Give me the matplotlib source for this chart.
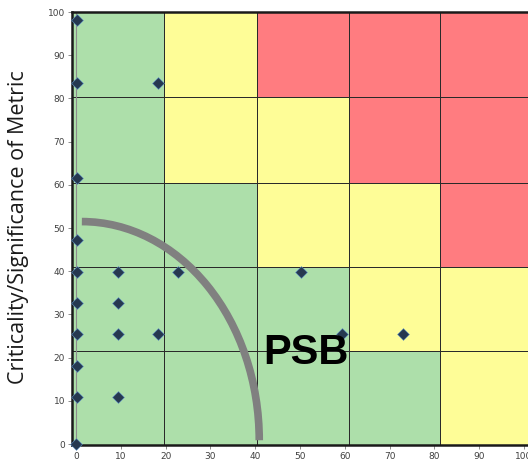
import numpy as np
import matplotlib
matplotlib.use("Agg")
import matplotlib.pyplot as plt
from matplotlib.colors import ListedColormap
from matplotlib.patches import Arc

# zone background: cell edges, levels 0=green 1=yellow 2=red
zone_x = [-0.9, 19.6, 40.4, 60.9, 81.2, 100.9]
zone_y = [-0.2, 21.5, 41.0, 60.4, 80.3, 100.0]
zone_level = [[0, 0, 0, 0, 1],
              [0, 0, 0, 1, 1],
              [0, 0, 1, 1, 2],
              [0, 1, 1, 2, 2],
              [0, 1, 2, 2, 2]]
zone_colors = ['#addfaa', '#fefd97', '#ff7c80']

# metrics
metric_x = [0.3, 0.3, 18.4, 0.3, 0.3, 0.3, 9.4, 22.8, 50.2, 0.3,
            9.4, 0.3, 9.4, 18.4, 59.3, 72.9, 0.3, 0.3, 9.4, 0.0]
metric_y = [98.1, 83.5, 83.5, 61.6, 47.2, 39.9, 39.9, 39.9, 39.9, 32.7,
            32.7, 25.4, 25.4, 25.4, 25.5, 25.5, 18.1, 10.9, 10.9, 0.0]

ticks = list(range(0, 101, 10))

fig = plt.figure(figsize=(5.28, 4.65), dpi=100)
ax = fig.add_axes([72/528, 20/465, 1 - 72/528, 433/465])

ax.pcolormesh(zone_x, zone_y, np.array(zone_level), cmap=ListedColormap(zone_colors),
              vmin=-0.5, vmax=2.5, edgecolors='#2a2a2a', linewidth=0.6, zorder=0)

# PSB boundary arc
ax.add_patch(Arc((1.3, 0.9), 2*39.6, 2*50.6, theta1=0, theta2=90,
                 color='#808080', lw=5.5, zorder=2))

ax.axvline(0, color='#8c8c8c', lw=0.8, zorder=1)
ax.scatter(metric_x, metric_y, marker='D', s=36, color='#263850',
           edgecolors='#5b8fc7', linewidths=0.4, zorder=3, clip_on=False)

ax.text(51.4, 21.2, 'PSB', fontsize=30, fontweight='bold', family='Liberation Sans',
        ha='center', va='center', zorder=4)

ax.set_xlim(zone_x[0], zone_x[-1])
ax.set_ylim(zone_y[0], zone_y[-1])
ax.set_xticks(ticks)
ax.set_yticks(ticks)
ax.tick_params(length=3, width=0.7, color='#8c8c8c', labelsize=6.5,
               labelcolor='#404040', pad=2)
for s in ['left', 'bottom', 'top']:
    ax.spines[s].set_linewidth(1.8)
    ax.spines[s].set_color('#1a1a1a')
ax.spines['right'].set_visible(False)

fig.text(19/528, 0.512, 'Criticality/Significance of Metric', rotation=90,
         ha='center', va='center', fontsize=15.5, family='Open Sans', color='#1a1a1a')

fig.savefig('out.png', dpi=100)
